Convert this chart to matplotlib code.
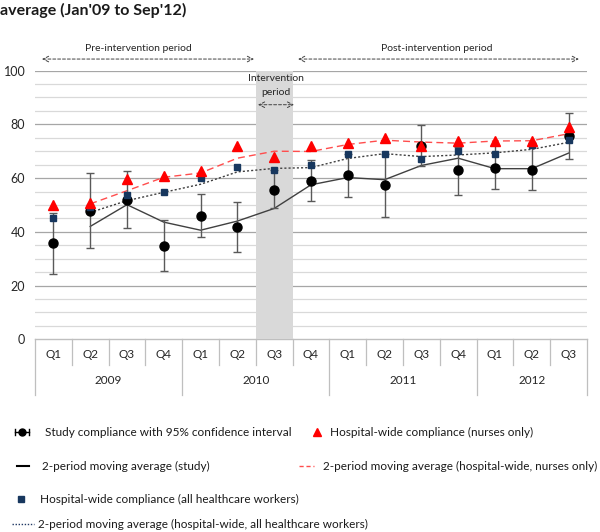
import numpy as np
import matplotlib.pyplot as plt
from matplotlib.lines import Line2D

plt.rcParams['font.family'] = ['Lato', 'DejaVu Sans']

# ---------------------------------------------------------------------------
# Data
# ---------------------------------------------------------------------------
quarters = ['Q1', 'Q2', 'Q3', 'Q4', 'Q1', 'Q2', 'Q3', 'Q4',
            'Q1', 'Q2', 'Q3', 'Q4', 'Q1', 'Q2', 'Q3']
years = ['2009', '2010', '2011', '2012']
year_spans = [(0, 4), (4, 8), (8, 12), (12, 15)]

study    = [35.7, 47.9, 51.9, 34.8, 45.9, 41.8, 55.7, 59.0,
            61.1, 57.3, 72.0, 63.0, 63.7, 63.0, 75.8]
study_lo = [24.3, 33.9, 41.4, 25.3, 38.1, 32.5, 48.8, 51.5,
            53.0, 45.4, 64.6, 53.7, 55.8, 55.5, 67.0]
study_hi = [46.9, 61.8, 62.6, 44.3, 54.0, 51.1, 63.0, 66.6,
            69.0, 69.0, 79.9, 71.7, 72.3, 72.9, 84.3]
study_ma = [np.nan, 42.0, 50.1, 43.6, 40.6, 44.0, 48.7, 57.5,
            60.2, 59.4, 64.7, 67.4, 63.5, 63.5, 69.3]

nurses    = [49.9, 50.6, 59.6, 60.8, 62.7, 71.8, 67.8, 71.8,
             73.0, 74.8, 71.8, 73.8, 73.8, 73.9, 78.9]
nurses_ma = [np.nan, 50.4, 55.3, 60.3, 61.9, 67.4, 70.0, 69.9,
             72.5, 74.1, 73.4, 73.0, 73.8, 73.9, 76.5]

allhcw    = [45.0, 49.2, 53.8, 54.9, 60.0, 64.0, 63.1, 65.0,
             69.0, 69.0, 67.0, 70.0, 69.0, 72.2, 74.0]
allhcw_ma = [np.nan, 47.2, 51.6, 54.7, 57.7, 62.3, 63.6, 63.9,
             67.3, 69.1, 68.0, 68.6, 69.4, 70.7, 73.3]

# ---------------------------------------------------------------------------
W, H = 600, 532
fig = plt.figure(figsize=(W / 100, H / 100), dpi=100)
ax = fig.add_axes([35 / W, 1 - 339.3 / H, 552 / W, 268.7 / H])

x = np.arange(len(quarters))
ax.set_xlim(-0.5, len(quarters) - 0.5)
ax.set_ylim(0, 100)

# gridlines every 5, darker every 20
for v in range(5, 101, 5):
    ax.axhline(v, color='#a6a6a6' if v % 20 == 0 else '#d9d9d9',
               lw=0.9, zorder=0)
ax.axhline(0, color='#bfbfbf', lw=1.0, zorder=0, clip_on=False)

# intervention shading (Q3 2010)
ax.axvspan(5.5, 6.5, color='#d9d9d9', zorder=0.5, lw=0)

for s in ax.spines.values():
    s.set_visible(False)
ax.set_xticks([])
ax.set_yticks(range(0, 101, 20))
ax.tick_params(axis='y', length=0, pad=7, labelsize=9, labelcolor='#262626')

# moving averages
ax.plot(x, study_ma, color='#404040', lw=1.0, zorder=2)
ax.plot(x, nurses_ma, color='#ff4d4d', lw=1.0, ls=(0, (5, 3)), zorder=2)
ax.plot(x, allhcw_ma, color='#404040', lw=1.0, ls=(0, (1.5, 1.5)), zorder=2)

# study compliance with CI
s = np.array(study)
yerr = [s - np.array(study_lo), np.array(study_hi) - s]
ax.errorbar(x, s, yerr=yerr, fmt='o', color='black', ms=6.5,
            ecolor='#595959', elinewidth=1.0, capsize=3, capthick=1.0,
            zorder=3)
ax.plot(x, allhcw, 's', color='#17375e', ms=5, zorder=4)
ax.plot(x, nurses, '^', color='#ff0000', ms=7, zorder=4)

# two-level category axis
for i, q in enumerate(quarters):
    ax.text(i, -5.8, q, ha='center', va='center', fontsize=8.5,
            color='#262626', clip_on=False)
for i in range(len(quarters) + 1):
    full = i in (0, 4, 8, 12, 15)
    ax.plot([i - 0.5, i - 0.5], [0, -20.7 if full else -9.4],
            color='#bfbfbf', lw=0.9, clip_on=False)
for yr, (a, b) in zip(years, year_spans):
    ax.text((a + b - 1) / 2, -15.5, yr, ha='center', va='center',
            fontsize=8.5, color='#262626', clip_on=False)

# period annotations
arrow = dict(arrowstyle='<->', ls=(0, (3, 2)), lw=0.7, color='#404040',
             shrinkA=0, shrinkB=0)
ax.annotate('', xy=(5.45, 104.3), xytext=(-0.31, 104.3),
            arrowprops=arrow, annotation_clip=False)
ax.annotate('', xy=(14.28, 104.3), xytext=(6.65, 104.3),
            arrowprops=arrow, annotation_clip=False)
ax.annotate('', xy=(6.54, 87.3), xytext=(5.56, 87.3),
            arrowprops=arrow, annotation_clip=False)
ax.text(2.3, 108.4, 'Pre-intervention period', ha='center', va='center',
        fontsize=7.5, color='#262626', clip_on=False)
ax.text(10.42, 108.4, 'Post-intervention period', ha='center', va='center',
        fontsize=7.5, color='#262626', clip_on=False)
ax.text(6.05, 97.0, 'Intervention', ha='center', va='center',
        fontsize=7.5, color='#262626')
ax.text(6.05, 92.0, 'period', ha='center', va='center',
        fontsize=7.5, color='#262626')

# title (second line of a cut-off title)
fig.text(0.0, 1 - 10 / H, "average (Jan'09 to Sep'12)", fontsize=11.5,
         fontweight='bold', ha='left', va='center', color='#1a1a1a')


# ---------------------------------------------------------------------------
# legend, drawn by hand in pixel positions
# ---------------------------------------------------------------------------
def fx(px):
    return px / W


def fy(py):
    return 1 - py / H


def leg_text(px, py, label):
    fig.text(fx(px), fy(py), label, fontsize=8.5, ha='left', va='center',
             color='#1a1a1a')


def leg_line(x0, x1, py, **kw):
    fig.add_artist(Line2D([fx(x0), fx(x1)], [fy(py), fy(py)],
                          transform=fig.transFigure, **kw))


# row 1
leg_line(15, 29, 432, color='black', lw=1.0)
fig.add_artist(Line2D([fx(15), fx(15)], [fy(429), fy(435)],
                      transform=fig.transFigure, color='black', lw=1.0))
fig.add_artist(Line2D([fx(29), fx(29)], [fy(429), fy(435)],
                      transform=fig.transFigure, color='black', lw=1.0))
fig.add_artist(Line2D([fx(22)], [fy(432)], transform=fig.transFigure,
                      marker='o', ms=5, color='black', lw=0))
leg_text(45, 432, 'Study compliance with 95% confidence interval')
fig.add_artist(Line2D([fx(317)], [fy(432)], transform=fig.transFigure,
                      marker='^', ms=5.5, color='#ff0000', lw=0))
leg_text(330, 432, 'Hospital-wide compliance (nurses only)')

# row 2
leg_line(17, 29, 466, color='black', lw=1.5)
leg_text(42, 466, '2-period moving average (study)')
leg_line(299, 314, 466, color='#ff4d4d', lw=1.0, ls=(0, (3, 2)))
leg_text(323, 466, '2-period moving average (hospital-wide, nurses only)')

# row 3
fig.add_artist(Line2D([fx(21)], [fy(499)], transform=fig.transFigure,
                      marker='s', ms=5, color='#17375e', lw=0))
leg_text(40, 499, 'Hospital-wide compliance (all healthcare workers)')

# row 4
leg_line(12, 34, 524, color='#1f3864', lw=1.0, ls=(0, (1, 1.2)))
leg_text(38, 524, '2-period moving average (hospital-wide, all healthcare workers)')

fig.savefig('out.png', dpi=100)
